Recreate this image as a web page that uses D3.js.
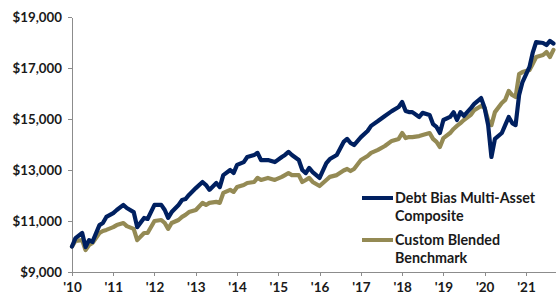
<!DOCTYPE html>
<html>
  <head>
    <style>
      body { margin: 0; background: #fff; overflow: hidden; }
      text { font-family: Lato, "Open Sans", sans-serif; font-weight: 700; fill: #1a1a1a; }
      .axis path, .axis line { stroke: #8c8c8c; stroke-width: 1px; shape-rendering: crispEdges; }
      .series { fill: none; stroke-width: 4.2px; stroke-linejoin: round; stroke-linecap: round; }
    </style>
  </head>
  <body>
    <svg width="556" height="297"></svg>
  </body>
  <script src="https://cdn.jsdelivr.net/npm/d3@7"></script>
  <script>
    // month-end readings, growth of $10,000
    const months = [
      '2010-01','2010-02','2010-04','2010-05','2010-06','2010-07','2010-09','2010-10','2010-11',
      '2011-01','2011-02','2011-04','2011-05','2011-07','2011-08','2011-10','2011-11',
      '2012-01','2012-03','2012-04','2012-05','2012-06','2012-08','2012-09','2012-10','2012-11',
      '2013-01','2013-03','2013-04','2013-05','2013-07','2013-08','2013-09','2013-11','2013-12',
      '2014-01','2014-03','2014-04','2014-06','2014-07','2014-08','2014-10','2014-12',
      '2015-02','2015-03','2015-04','2015-05','2015-07','2015-08','2015-09','2015-10','2015-11',
      '2016-01','2016-03','2016-04','2016-06','2016-08','2016-09','2016-10','2016-11',
      '2017-01','2017-03','2017-04','2017-06','2017-08','2017-10','2017-12',
      '2018-01','2018-02','2018-03','2018-04','2018-06','2018-07','2018-09','2018-10','2018-11','2018-12',
      '2019-01','2019-03','2019-04','2019-05','2019-06','2019-07','2019-09','2019-10','2019-12',
      '2020-01','2020-02','2020-03','2020-04','2020-06','2020-07','2020-08','2020-09','2020-10','2020-11','2020-12',
      '2021-02','2021-03','2021-04','2021-06','2021-07','2021-08','2021-09'
    ];

    const composite = [
      10000,10330,10530,9980,10250,10180,10840,10920,11160,
      11310,11430,11630,11510,11350,10760,11120,11080,
      11630,11630,11430,11120,11350,11630,11820,11860,12020,
      12290,12530,12410,12220,12490,12330,12800,13000,12880,
      13200,13310,13510,13590,13670,13390,13390,13310,
      13510,13590,13710,13590,13390,13000,12880,13080,12920,
      12690,13270,13430,13590,14100,14220,14060,13980,
      14290,14530,14730,14920,15120,15310,15470,
      15670,15310,15270,15270,15080,15240,15160,14800,14690,14450,
      14960,15080,15270,14960,15270,15120,15430,15590,15820,
      15430,14760,13510,14220,14450,14760,15080,14840,14760,15940,16450,
      17040,17590,18020,17980,17900,18060,17960
    ];

    const benchmark = [
      10000,10220,10250,9860,10060,10140,10530,10610,10650,
      10760,10840,10920,10800,10690,10250,10530,10530,
      11000,11040,10920,10690,10920,11040,11160,11240,11350,
      11430,11710,11630,11710,11750,11710,12100,12220,12140,
      12330,12410,12490,12530,12690,12610,12690,12610,
      12730,12800,12880,12800,12800,12530,12610,12690,12530,
      12370,12610,12730,12800,12980,13040,12960,13040,
      13390,13550,13670,13790,13940,14140,14220,
      14450,14250,14290,14290,14330,14370,14450,14220,14100,13900,
      14250,14450,14610,14730,14840,14960,15160,15350,15510,
      15430,14960,14760,15270,15630,15750,16100,15940,15860,16760,16840,
      16920,17160,17430,17510,17630,17430,17710
    ];

    const yTicks = [9000, 11000, 13000, 15000, 17000, 19000];
    const years = d3.range(2010, 2022);
    const seriesNames = [['Debt Bias Multi-Asset', 'Composite'], ['Custom Blended', 'Benchmark']];
    const colors = ['#002060', '#948A54'];

    const svg = d3.select('svg');
    const parse = d3.timeParse('%Y-%m');

    const x = d3.scaleTime()
      .domain([new Date(2010, 0, 1), new Date(2021, 0, 1)])
      .range([72, 526]);
    const y = d3.scaleLinear()
      .domain([9000, 19000])
      .range([272, 17]);

    svg.append('g')
      .attr('class', 'axis')
      .attr('transform', 'translate(72,0)')
      .call(d3.axisLeft(y).tickValues(yTicks).tickSize(4).tickSizeOuter(0)
        .tickFormat(d => '$' + d3.format(',')(d)))
      .call(g => g.selectAll('text').attr('x', -10).style('font-size', '13.3px'));

    svg.append('g')
      .attr('class', 'axis')
      .attr('transform', 'translate(0,272)')
      .call(d3.axisBottom(x).tickValues(years.map(yr => new Date(yr, 0, 1))).tickSize(4).tickSizeOuter(0)
        .tickFormat(d => "'" + d3.timeFormat('%y')(d)))
      .call(g => g.select('.domain').attr('d', 'M72,0.5H556'))
      .call(g => g.selectAll('text').attr('y', 10).style('font-size', '13.5px'));

    const line = d3.line()
      .x(d => x(d[0]))
      .y(d => y(d[1]));

    [benchmark, composite].forEach((vals, i) => {
      const pts = months.map((m, j) => [parse(m), vals[j]]);
      svg.append('path')
        .attr('class', 'series')
        .attr('stroke', i === 0 ? colors[1] : colors[0])
        .attr('d', line(pts));
    });

    // legend
    const legend = svg.append('g').attr('transform', 'translate(362,198)');
    seriesNames.forEach((lines, i) => {
      const g = legend.append('g').attr('transform', `translate(0,${i * 42})`);
      g.append('line')
        .attr('x1', 0).attr('x2', 31)
        .attr('stroke', colors[i]).attr('stroke-width', 4);
      lines.forEach((t, k) => {
        g.append('text')
          .attr('x', 33).attr('y', k * 18)
          .attr('dy', '0.35em')
          .style('font-size', '14.3px')
          .text(t);
      });
    });
  </script>
</html>
